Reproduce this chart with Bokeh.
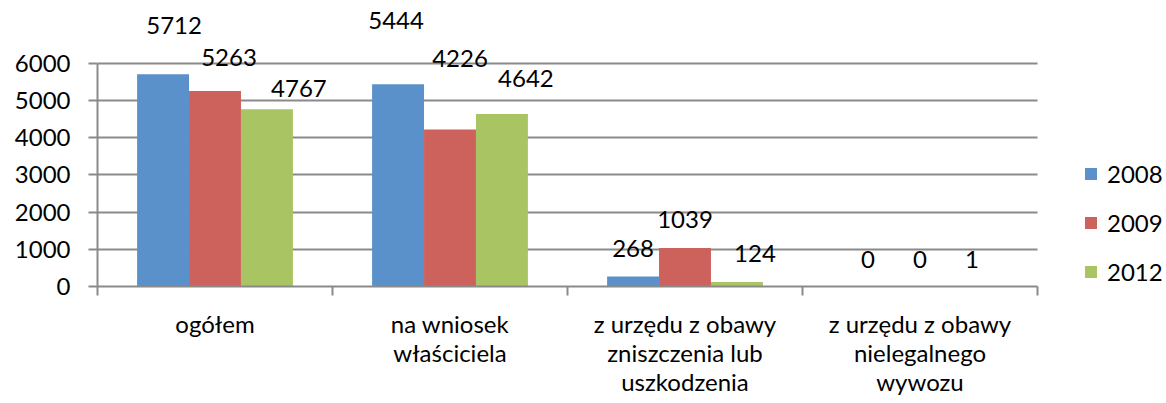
from bokeh.plotting import figure
from bokeh.models import Range1d, FixedTicker, Legend, LegendItem
from bokeh.core.properties import value
from bokeh.embed import file_html
from bokeh.resources import INLINE

categories = [
    "ogółem",
    "na wniosek\nwłaściciela",
    "z urzędu z obawy\nzniszczenia lub\nuszkodzenia",
    "z urzędu z obawy\nnielegalnego\nwywozu",
]
years = ["2008", "2009", "2012"]
v2008 = [5712, 5444, 268, 0]
v2009 = [5263, 4226, 1039, 0]
v2012 = [4767, 4642, 124, 1]
y_ticks = [0, 1000, 2000, 3000, 4000, 5000, 6000]

# styling
colors = ["#5B91CB", "#CD625D", "#A9C462"]
# manual label nudges in screen px (dx, dy above bar top)
label_dx = [[11, -2, 0, 0], [14, 10, 0, 0], [32, 24, 18, 0]]
label_dy = [[49, 64, 28, 27], [33, 71, 28, 27], [21, 35, 28, 27]]
FONT = "Lato"
FS = "24px"
GRAY = "#8a8a8a"

series = [v2008, v2009, v2012]
n = len(categories)
bar_w = 0.221
W, H = 1166, 403
LEFT = 97
PLOT_W = 940            # px occupied by the categories
FRAME_W = W - LEFT      # frame extends under the legend
x_end = n * FRAME_W / PLOT_W

p = figure(width=W, height=H, title=None,
           x_range=Range1d(0, x_end), y_range=Range1d(0, 7695),
           output_backend="svg", toolbar_location=None,
           min_border_left=LEFT, min_border_right=0,
           min_border_top=0, min_border_bottom=117)
p.outline_line_color = None
p.background_fill_color = "white"
p.border_fill_color = "white"

renderers = []
for k, vals in enumerate(series):
    xs = [i + 0.5 + (k - 1) * bar_w for i in range(n)]
    r = p.vbar(x=xs, top=vals, width=bar_w, fill_color=colors[k], line_color=None)
    renderers.append(r)
    p.text(x=xs, y=vals, text=[str(v) for v in vals],
           x_offset=label_dx[k], y_offset=[-d for d in label_dy[k]],
           text_align="center", text_baseline="middle",
           text_font=value(FONT), text_font_size=FS, text_color="black")

# y axis
p.yaxis.ticker = FixedTicker(ticks=y_ticks)
p.yaxis.bounds = (0, 6000)
p.yaxis.axis_line_color = GRAY
p.yaxis.axis_line_width = 2
p.yaxis.major_tick_line_color = GRAY
p.yaxis.major_tick_line_width = 2
p.yaxis.major_tick_out = 9
p.yaxis.major_tick_in = 0
p.yaxis.minor_tick_line_color = None
p.yaxis.major_label_standoff = 18
p.yaxis.major_label_text_font = FONT
p.yaxis.major_label_text_font_size = FS
p.yaxis.major_label_text_color = "black"

p.ygrid.grid_line_color = GRAY
p.ygrid.grid_line_width = 2
p.ygrid.cross_bounds = (0, n)
p.xgrid.visible = False

# x axis
p.xaxis.ticker = FixedTicker(ticks=[i + 0.5 for i in range(n)],
                             minor_ticks=[i for i in range(n + 1)])
p.xaxis.bounds = (0, n)
p.xaxis.major_label_overrides = {i + 0.5: c for i, c in enumerate(categories)}
p.xaxis.axis_line_color = GRAY
p.xaxis.axis_line_width = 2
p.xaxis.major_tick_line_color = None
p.xaxis.major_tick_out = 0
p.xaxis.major_tick_in = 0
p.xaxis.minor_tick_line_color = GRAY
p.xaxis.minor_tick_line_width = 2
p.xaxis.minor_tick_out = 9
p.xaxis.minor_tick_in = 0
p.xaxis.major_label_standoff = 13
p.xaxis.major_label_text_font = FONT
p.xaxis.major_label_text_font_size = FS
p.xaxis.major_label_text_color = "black"
p.xaxis.major_label_text_line_height = 1.0

legend = Legend(items=[LegendItem(label=y, renderers=[r]) for y, r in zip(years, renderers)],
                location=(986, 0), padding=0, margin=0, spacing=20,
                glyph_width=15, glyph_height=15, label_height=29, label_standoff=9,
                label_text_font=FONT, label_text_font_size=FS, label_text_color="black",
                border_line_color=None, background_fill_alpha=0)
p.add_layout(legend)

open("out.html", "w").write(file_html(p, INLINE))
